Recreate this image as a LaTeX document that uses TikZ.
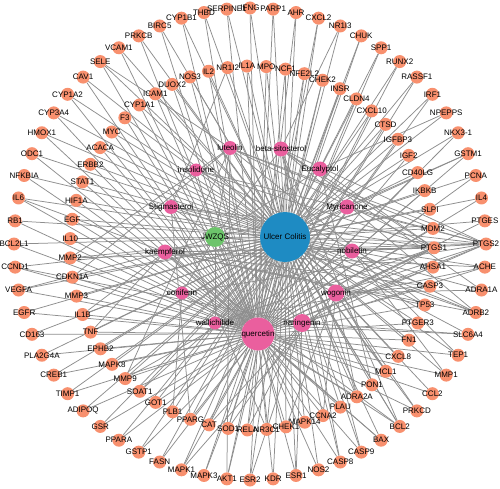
\documentclass[tikz,border=0pt]{standalone}
\usepackage{fontspec}
\setmainfont{Liberation Sans}
\pgfdeclarelayer{bg}
\pgfsetlayers{bg,main}
\definecolor{tgt}{HTML}{F8906E}
\definecolor{cmp}{HTML}{EA5F9E}
\definecolor{herb}{HTML}{6DC46B}
\definecolor{dis}{HTML}{1E8BC3}
\definecolor{edgec}{HTML}{8E8E8E}
\tikzset{
  lbl/.style={font=\fontsize{8}{9}\selectfont, text=black, inner sep=0pt},
  tnode/.style={circle, fill=tgt, minimum size=13pt, inner sep=0pt},
  cnode/.style={circle, fill=cmp, minimum size=#1, inner sep=0pt},
  hnode/.style={circle, fill=herb, minimum size=20pt, inner sep=0pt},
  dnode/.style={circle, fill=dis, minimum size=50pt, inner sep=0pt},
  link/.style={draw=edgec, line width=0.75pt},
}
\begin{document}
\begin{tikzpicture}[x=1pt,y=-1pt]
\useasboundingbox (0,0) rectangle (500,489);
% outer ring of targets
\foreach \nm [count=\k from 0] in {IFNG,PARP1,AHR,CXCL2,NR1I3,CHUK,SPP1,RUNX2,RASSF1,IRF1,NPEPPS,NKX3-1,GSTM1,PCNA,IL4,PTGES,PTGS2,ACHE,ADRA1A,ADRB2,SLC6A4,TEP1,MMP1,CCL2,PRKCD,BCL2,BAX,CASP9,CASP8,NOS2,ESR1,KDR,ESR2,AKT1,MAPK3,MAPK1,FASN,GSTP1,PPARA,GSR,ADIPOQ,TIMP1,CREB1,PLA2G4A,CD163,EGFR,VEGFA,CCND1,BCL2L1,RB1,IL6,NFKBIA,ODC1,HMOX1,CYP3A4,CYP1A2,CAV1,SELE,VCAM1,PRKCB,BIRC5,CYP1B1,THBD,SERPINE1}{
  \pgfmathsetmacro\ang{90-5.625*\k}
  \node[tnode, label={[lbl]center:\nm}] (o\k) at ({250+236*cos(\ang)},{244-236*sin(\ang)}) {};
}
% inner ring of targets
\foreach \nm [count=\k from 0] in {IL1A,MPO,NCF1,NFE2L2,CHEK2,INSR,CLDN4,CXCL10,CTSD,IGFBP3,IGF2,CD40LG,IKBKB,SLPI,MDM2,PTGS1,AHSA1,CASP3,TP53,PTGER3,FN1,CXCL8,MCL1,PON1,ADRA2A,PLAU,CCNA2,MAPK14,CHEK1,NR3C1,RELA,SOD1,CAT,PPARG,PLB1,GOT1,SOAT1,MMP9,MAPK8,EPHB2,TNF,IL1B,MMP3,CDKN1A,MMP2,IL10,EGF,HIF1A,STAT1,ERBB2,ACACA,MYC,F3,CYP1A1,ICAM1,DUOX2,NOS3,IL2,NR1I2}{
  \pgfmathsetmacro\ang{91.6-6.1017*\k}
  \node[tnode, label={[lbl]center:\nm}] (i\k) at ({252+182*cos(\ang)},{248-182*sin(\ang)}) {};
}
% compounds
\node[cnode=14pt, label={[lbl]center:luteolin}] (lut) at (230,148) {};
\node[cnode=15pt, label={[lbl]center:beta-sitosterol}] (bsi) at (281,149) {};
\node[cnode=15pt, label={[lbl]center:Eucalyptol}] (euc) at (320,169) {};
\node[cnode=15pt, label={[lbl]center:Myricanone}] (myr) at (347,207) {};
\node[cnode=15pt, label={[lbl]center:nobiletin}] (nob) at (352,251) {};
\node[cnode=17pt, label={[lbl]center:wogonin}] (wog) at (336,293) {};
\node[cnode=18pt, label={[lbl]center:naringenin}] (nar) at (302,323) {};
\node[cnode=33pt, label={[lbl]center:quercetin}] (que) at (258,334) {};
\node[cnode=13pt, label={[lbl]center:wallichilide}] (wal) at (215,323) {};
\node[cnode=13pt, label={[lbl]center:coniferin}] (con) at (182,293) {};
\node[cnode=15pt, label={[lbl]center:kaempferol}] (kae) at (165,252) {};
\node[cnode=14pt, label={[lbl]center:Stigmasterol}] (sti) at (171,207) {};
\node[cnode=13pt, label={[lbl]center:insolidone}] (ins) at (196,170) {};
\node[hnode, label={[lbl]center:JWZQS}] (jw) at (215,237) {};
\node[dnode, label={[lbl]center:Ulcer Colitis}] (uc) at (285,237) {};
\begin{pgfonlayer}{bg}
  \fill[white] (0,0) rectangle (500,489);
  \foreach \k in {0,...,63} \draw[link] (uc) -- (o\k);
  \foreach \k in {0,...,58} \draw[link] (uc) -- (i\k);
  \foreach \c in {lut,bsi,euc,myr,nob,wog,nar,que,wal,con,kae,sti,ins} \draw[link] (jw) -- (\c);
  \foreach \k in {0,1,2,3,5,6,7,8,9,11,12,13,14,15,16,21,22,23,24,25,26,27,28,29,30,31,32,33,34,35,36,37,38,39,40,41,42,43,44,45,46,47,48,49,50,51,52,53,54,55,56,57,58,59,60,61,62,63} \draw[link] (que) -- (o\k);
  \foreach \k in {0,1,2,3,4,5,6,7,8,9,10,11,12,13,14,15,16,17,18,19,20,21,22,25,26,27,28,29,30,31,32,33,35,37,38,39,40,41,42,43,44,45,46,47,48,49,50,51,52,53,54,55,56,57} \draw[link] (que) -- (i\k);
  \foreach \t in {o16,i15,o19,o17,i17,o26,o25,i40,o50,o46,i41,i18} \draw[link] (kae) -- (\t);
  \foreach \t in {o16,i15,o33,i18,i44,i37,i43,o25,i14,o57} \draw[link] (lut) -- (\t);
  \foreach \t in {o16,i15,o18,i17,i22,i26,i28,o35,i24,o24} \draw[link] (wog) -- (\t);
  \foreach \t in {o16,i15,o17,o20,o30,o32,i32,i31,o47,i30} \draw[link] (nar) -- (\t);
  \foreach \t in {o16,i15,i37,i44,o22,o21} \draw[link] (nob) -- (\t);
  \foreach \t in {o16,i15,o18,o19,i24,o25,o27,o28,o4} \draw[link] (bsi) -- (\t);
  \foreach \t in {o16,i15,o19,i33,i29,i58} \draw[link] (sti) -- (\t);
  \foreach \t in {o16,o12,i36} \draw[link] (myr) -- (\t);
  \foreach \t in {o10,i23,i15} \draw[link] (euc) -- (\t);
  \foreach \t in {o16,i15,o19} \draw[link] (ins) -- (\t);
  \foreach \t in {o16,i34,i24} \draw[link] (con) -- (\t);
  \foreach \t in {o17,i15,o20} \draw[link] (wal) -- (\t);
\end{pgfonlayer}
\end{tikzpicture}
\end{document}
